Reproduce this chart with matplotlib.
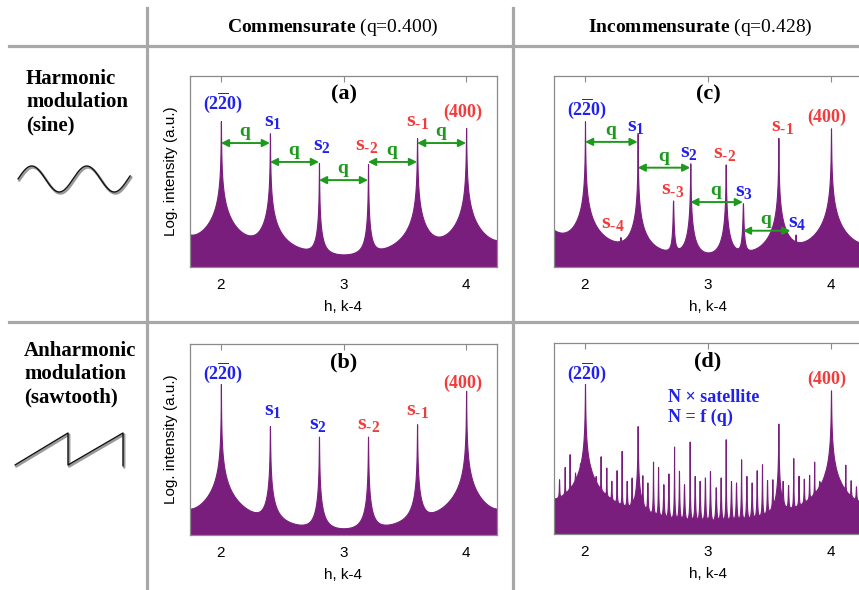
import matplotlib
matplotlib.use("Agg")
import matplotlib.pyplot as plt
import numpy as np
from matplotlib.lines import Line2D

plt.rcParams["mathtext.fontset"] = "custom"
plt.rcParams["mathtext.rm"] = "Liberation Serif"
plt.rcParams["mathtext.it"] = "Liberation Serif:italic"
plt.rcParams["mathtext.bf"] = "Liberation Serif:bold"

SERIF = "Liberation Serif"
SANS = "Liberation Sans"

PURPLE = "#7a1e7e"
BLUE = "#2121ee"
RED = "#f23c3c"
GREEN = "#1d9a1d"
RULE = "#a8a8a8"
FRAME = "#8a8a8a"

W, H = 859, 590
XLIM = (1.748, 4.252)
DECADES = 8.0        # log10 span of the intensity axis
BACKGROUND = 0.15

# peaks: position in h, peak level (fraction of panel height), wing strength
# (positions outside 1.75..4.25 are neighbouring reflections whose tails show)
a_pos = [1.6, 2.0, 2.4, 2.8, 3.2, 3.6, 4.0, 4.4]
a_level = [0.62, 0.764, 0.70, 0.545, 0.54, 0.675, 0.728, 0.62]
a_wing = [0.25, 0.7, 0.2, 0.012, 0.012, 0.25, 0.5, 0.1]

b_pos = [1.6, 2.0, 2.4, 2.8, 3.2, 3.6, 4.0, 4.4]
b_level = [0.6, 0.79, 0.57, 0.515, 0.515, 0.58, 0.755, 0.6]
b_wing = [0.1, 0.5, 0.03, 0.01, 0.01, 0.03, 0.5, 0.1]

c_pos = [1.572, 2.0, 2.288, 2.428, 2.716, 2.856, 3.144, 3.284, 3.572, 3.712, 4.0, 4.428]
c_level = [0.62, 0.763, 0.157, 0.697, 0.348, 0.543, 0.537, 0.334, 0.676, 0.17, 0.726, 0.6]
c_wing = [0.9, 0.4, 1e-5, 0.1, 0.002, 0.02, 0.02, 0.002, 0.12, 1e-5, 0.4, 0.1]

d_pos = [1.572, 1.789, 1.835, 1.875, 1.919, 1.959, 2.0, 2.046, 2.087, 2.127, 2.173,
         2.214, 2.257, 2.298, 2.339, 2.379, 2.428, 2.466, 2.507, 2.553, 2.594,
         2.637, 2.678, 2.724, 2.764, 2.805, 2.851, 2.892, 2.932, 2.975, 3.016,
         3.063, 3.103, 3.144, 3.187, 3.228, 3.269, 3.312, 3.355, 3.396, 3.439,
         3.48, 3.523, 3.572, 3.607, 3.651, 3.693, 3.736, 3.779, 3.822, 3.863,
         3.905, 3.951, 4.0, 4.032, 4.073, 4.116, 4.16, 4.203, 4.245, 4.428]
d_level = [0.6, 0.287, 0.351, 0.418, 0.322, 0.369, 0.786, 0.33, 0.304, 0.407, 0.348,
           0.278, 0.334, 0.435, 0.278, 0.296, 0.565, 0.308, 0.27, 0.379, 0.351,
           0.261, 0.317, 0.458, 0.331, 0.261, 0.484, 0.304, 0.278, 0.296, 0.33,
           0.245, 0.296, 0.496, 0.278, 0.27, 0.391, 0.304, 0.27, 0.334, 0.365,
           0.282, 0.287, 0.578, 0.278, 0.257, 0.397, 0.305, 0.29, 0.31, 0.379,
           0.278, 0.31, 0.752, 0.31, 0.26, 0.363, 0.282, 0.25, 0.26, 0.6]
d_wing = [3e-4] * len(d_pos)
d_wing[0] = 0.35     # tail of the reflection left of the window
d_wing[6] = 1.2      # (2-20)
d_wing[16] = 0.02    # s1
d_wing[43] = 0.02    # s-1
d_wing[53] = 0.9     # (400)
d_wing[-1] = 0.2     # tail of the reflection right of the window

# labels: (text, h, level, colour)
a_labels = [(r"$\mathbf{(2\overline{2}0)}$", 2.02, 0.86, BLUE),
            (r"$\mathbf{s_1}$", 2.425, 0.765, BLUE),
            (r"$\mathbf{s_2}$", 2.825, 0.64, BLUE),
            (r"$\mathbf{s_{‐2}}$", 3.19, 0.64, RED),
            (r"$\mathbf{s_{‐1}}$", 3.6, 0.765, RED),
            (r"$\mathbf{(400)}$", 3.975, 0.81, RED)]
b_labels = [(r"$\mathbf{(2\overline{2}0)}$", 2.02, 0.85, BLUE),
            (r"$\mathbf{s_1}$", 2.425, 0.655, BLUE),
            (r"$\mathbf{s_2}$", 2.79, 0.58, BLUE),
            (r"$\mathbf{s_{‐2}}$", 3.2, 0.58, RED),
            (r"$\mathbf{s_{‐1}}$", 3.6, 0.655, RED),
            (r"$\mathbf{(400)}$", 3.975, 0.795, RED)]
c_labels = [(r"$\mathbf{(2\overline{2}0)}$", 2.016, 0.83, BLUE),
            (r"$\mathbf{s_1}$", 2.415, 0.74, BLUE),
            (r"$\mathbf{s_2}$", 2.846, 0.60, BLUE),
            (r"$\mathbf{s_{‐2}}$", 3.138, 0.595, RED),
            (r"$\mathbf{s_{‐3}}$", 2.716, 0.41, RED),
            (r"$\mathbf{s_3}$", 3.293, 0.40, BLUE),
            (r"$\mathbf{s_{‐4}}$", 2.228, 0.23, RED),
            (r"$\mathbf{s_4}$", 3.724, 0.235, BLUE),
            (r"$\mathbf{s_{‐1}}$", 3.602, 0.74, RED),
            (r"$\mathbf{(400)}$", 3.968, 0.785, RED)]
d_labels = [(r"$\mathbf{(2\overline{2}0)}$", 2.016, 0.845, BLUE),
            (r"$\mathbf{(400)}$", 3.968, 0.81, RED)]

# q arrows: (start h, end h, level)
a_arrows = [(2.0, 2.4, 0.649), (2.4, 2.8, 0.55), (2.8, 3.2, 0.455),
            (3.2, 3.6, 0.55), (3.6, 4.0, 0.649)]
c_arrows = [(2.0, 2.428, 0.655), (2.428, 2.856, 0.52), (2.856, 3.284, 0.34),
            (3.284, 3.67, 0.19)]


def spectrum(pos, level, wing, x):
    pos = np.asarray(pos, float)
    target = 10.0 ** (np.asarray(level, float) * DECADES)
    wing = np.asarray(wing, float)
    amp = target.copy()
    for _ in range(30):
        width = np.sqrt(wing / amp)
        lor = amp[None, :] / (1.0 + ((pos[:, None] - pos[None, :]) / width[None, :]) ** 2)
        others = lor.sum(axis=1) - amp + BACKGROUND
        amp = np.maximum(target - others, target * 0.05)
    width = np.sqrt(wing / amp)
    inten = np.full_like(x, BACKGROUND)
    for p, a, w in zip(pos, amp, width):
        inten += a / (1.0 + ((x - p) / w) ** 2)
    return np.log10(inten) / DECADES


def draw_panel(ax, pos, level, wing, tag, labels, ylabel):
    x = np.linspace(XLIM[0], XLIM[1], 8001)
    inside = [p for p in pos if XLIM[0] < p < XLIM[1]]
    x = np.sort(np.concatenate([x, inside]))
    y = spectrum(pos, level, wing, x)
    ax.fill_between(x, 0, y, color=PURPLE, edgecolor=PURPLE, linewidth=0.8)
    ax.set_xlim(*XLIM)
    ax.set_ylim(0, 1)
    ax.set_xticks([2, 3, 4])
    ax.set_yticks([])
    ax.tick_params(axis="x", top=True, bottom=False, direction="in", length=4,
                   color=FRAME, pad=8, labelsize=11)
    for lab in ax.get_xticklabels():
        lab.set_family(SANS)
    for sp in ax.spines.values():
        sp.set_color(FRAME)
        sp.set_linewidth(0.9)
    ax.set_xlabel("h, k-4", family=SANS, fontsize=11, labelpad=6)
    if ylabel:
        ax.set_ylabel("Log. intensity (a.u.)", family=SANS, fontsize=11, labelpad=9)
    ax.text(3.0, 0.905, tag, family=SERIF, weight="bold", fontsize=16,
            ha="center", va="center")
    for txt, hx, hy, col in labels:
        size = 13 if txt.startswith(r"$\mathbf{(") else 16
        ax.text(hx, hy, txt, color=col, fontsize=size, ha="center", va="center")


def draw_arrows(ax, arrows):
    for h0, h1, lv in arrows:
        ax.annotate("", xy=(h1, lv), xytext=(h0, lv),
                    arrowprops=dict(arrowstyle="<|-|>", color=GREEN, lw=1.4,
                                    mutation_scale=11, shrinkA=0, shrinkB=0))
        ax.text((h0 + h1) / 2, lv + 0.055, r"$\mathbf{q}$", color=GREEN,
                fontsize=14, ha="center", va="center")


fig = plt.figure(figsize=(W / 100, H / 100), dpi=100)


def px_axes(left, top, width, height):
    return fig.add_axes([left / W, 1 - (top + height) / H, width / W, height / H])


ax_a = px_axes(190, 76, 307, 191)
ax_c = px_axes(554, 76, 308, 191)
ax_b = px_axes(190, 344, 307, 191)
ax_d = px_axes(554, 343, 308, 191)

draw_panel(ax_a, a_pos, a_level, a_wing, "(a)", a_labels, True)
draw_panel(ax_b, b_pos, b_level, b_wing, "(b)", b_labels, True)
draw_panel(ax_c, c_pos, c_level, c_wing, "(c)", c_labels, False)
draw_panel(ax_d, d_pos, d_level, d_wing, "(d)", d_labels, False)
draw_arrows(ax_a, a_arrows)
draw_arrows(ax_c, c_arrows)

ax_d.text(2.675, 0.715, "N × satellite", family=SERIF, weight="bold", color=BLUE,
          fontsize=13, ha="left", va="center")
ax_d.text(2.675, 0.61, "N = f (q)", family=SERIF, weight="bold", color=BLUE,
          fontsize=13, ha="left", va="center")


# table rules
def rule(x0, y0, x1, y1):
    fig.add_artist(Line2D([x0 / W, x1 / W], [1 - y0 / H, 1 - y1 / H],
                          transform=fig.transFigure, color=RULE, lw=2.3))


rule(147, 8, 147, H)
rule(513, 8, 513, H)
rule(9, 46, W, 46)
rule(9, 322, W, 322)

fig.text(333 / W, 1 - 27 / H, r"$\mathbf{Commensurate}$ (q=0.400)", family=SERIF,
         fontsize=14, ha="center", va="center")
fig.text(700 / W, 1 - 27 / H, r"$\mathbf{Incommensurate}$ (q=0.428)", family=SERIF,
         fontsize=14, ha="center", va="center")
fig.text(26 / W, 1 - 102 / H, "Harmonic\nmodulation\n(sine)", family=SERIF,
         weight="bold", fontsize=15, ha="left", va="center", linespacing=1.2)
fig.text(24 / W, 1 - 374 / H, "Anharmonic\nmodulation\n(sawtooth)", family=SERIF,
         weight="bold", fontsize=15, ha="left", va="center", linespacing=1.2)


# modulation sketches (black stroke with grey shadow)
def sketch(xs, ys):
    xs = np.asarray(xs, float)
    ys = np.asarray(ys, float)
    fig.add_artist(Line2D((xs + 1.2) / W, 1 - (ys + 1.5) / H, transform=fig.transFigure,
                          color="#9a9a9a", lw=1.8, solid_capstyle="round"))
    fig.add_artist(Line2D(xs / W, 1 - ys / H, transform=fig.transFigure,
                          color="#111111", lw=1.0, solid_capstyle="round"))


t = np.linspace(0, 2.04 * 2 * np.pi, 200)
sketch(18 + t / (2 * np.pi) * 55, 179 - 13 * np.sin(t))
sketch([15, 68, 68, 123, 123], [465, 433, 465, 433, 466])

fig.savefig("out.png", dpi=100)
